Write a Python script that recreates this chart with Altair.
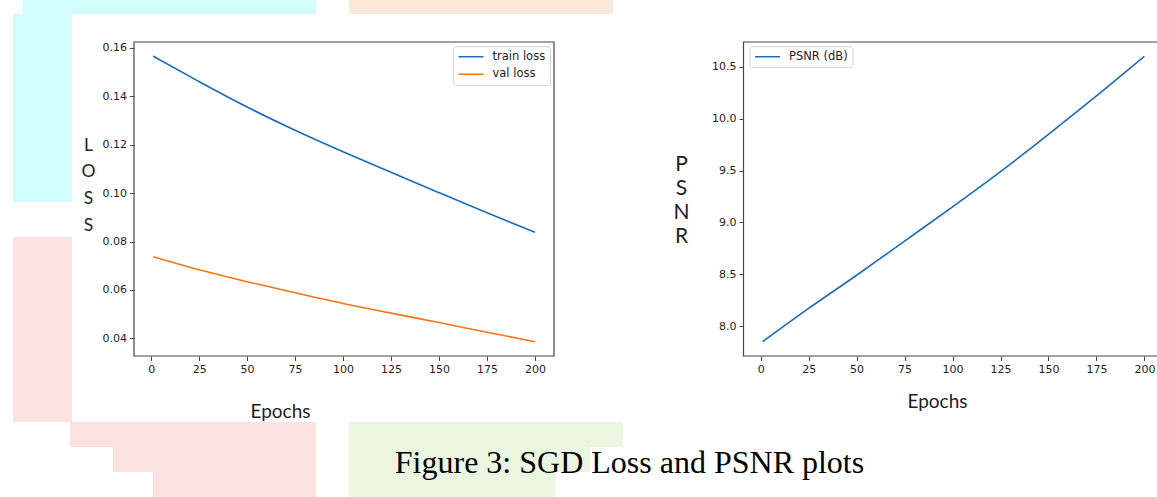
import altair as alt
import pandas as pd

# ---------------- data ----------------
epochs = [1, 25, 50, 75, 100, 125, 150, 175, 200]
train_loss = [0.1566, 0.1461, 0.1356, 0.1260, 0.1171, 0.1086, 0.1002, 0.0919, 0.0838]
val_loss = [0.0737, 0.0683, 0.0634, 0.0588, 0.0544, 0.0504, 0.0465, 0.0425, 0.0386]
psnr = [7.849, 8.17, 8.49, 8.82, 9.15, 9.49, 9.85, 10.22, 10.603]

x_ticks = [0, 25, 50, 75, 100, 125, 150, 175, 200]
loss_ticks = [0.04, 0.06, 0.08, 0.10, 0.12, 0.14, 0.16]
psnr_ticks = [8.0, 8.5, 9.0, 9.5, 10.0, 10.5]

loss_names = ["train loss", "val loss"]
psnr_names = ["PSNR (dB)"]

# axis limits (matplotlib default 5% margins)
X_LIM = [-8.95, 209.95]
LOSS_LIM = [0.03269, 0.16248]
PSNR_LIM = [7.711, 10.741]

BLUE = "#1c6cb6"
ORANGE = "#ff7415"
FRAME = "#474747"
TXT = "#1e1e1e"

W, H = 1157, 497

loss_df = pd.DataFrame({
    "epoch": epochs * 2,
    "value": train_loss + val_loss,
    "series": [loss_names[0]] * len(epochs) + [loss_names[1]] * len(epochs),
})
psnr_df = pd.DataFrame({"epoch": epochs, "value": psnr, "series": psnr_names * len(epochs)})

loss_frame = pd.DataFrame({"x0": [X_LIM[0]], "x1": [X_LIM[1]], "y0": [LOSS_LIM[0]], "y1": [LOSS_LIM[1]]})
psnr_frame = pd.DataFrame({"x0": [X_LIM[0]], "x1": [X_LIM[1]], "y0": [PSNR_LIM[0]], "y1": [PSNR_LIM[1]]})

tick_style = dict(
    domain=False, grid=False, tickSize=4.5, tickWidth=1, tickColor=FRAME,
    labelFont="DejaVu Sans", labelFontSize=11, labelColor=TXT, labelPadding=3,
    titleFont="Lato", titleFontWeight="normal", titleColor=TXT,
    titleAngle=0, titleAlign="center", titleBaseline="alphabetic",
)

legend_style = dict(
    orient="none", title=None, symbolType="stroke", symbolSize=625, symbolStrokeWidth=1.6,
    labelFont="DejaVu Sans", labelFontSize=11.5, labelColor=TXT, labelOffset=8,
    strokeColor="#d4d4d4", fillColor="white", padding=4.5, cornerRadius=3,
    clipHeight=12, rowPadding=5.6,
)

# ---------------- left panel: loss ----------------
lx_scale = alt.Scale(domain=X_LIM, range=[134, 554], nice=False, zero=False)
ly_scale = alt.Scale(domain=LOSS_LIM, range=[356, 42], nice=False, zero=False)
lx_axis = alt.Axis(orient="bottom", offset=-(H - 356), values=x_ticks, format="d",
                   title="Epochs", titleX=280, titleY=61, titleFontSize=19, **tick_style)
ly_axis = alt.Axis(orient="left", offset=-134, values=loss_ticks, format=".2f",
                   title=["L", "O", "S", "S"], titleX=-46, titleY=150,
                   titleFontSize=17.5, titleLineHeight=26.7, **tick_style)

loss_box = alt.Chart(loss_frame).mark_rect(fillOpacity=0, stroke=FRAME, strokeWidth=1.2).encode(
    x=alt.X("x0:Q", scale=lx_scale, axis=lx_axis),
    x2="x1",
    y=alt.Y("y0:Q", scale=ly_scale, axis=ly_axis),
    y2="y1",
)
loss_lines = alt.Chart(loss_df).mark_line(strokeWidth=1.6, interpolate="monotone").encode(
    x=alt.X("epoch:Q", scale=lx_scale, axis=lx_axis),
    y=alt.Y("value:Q", scale=ly_scale, axis=ly_axis),
    color=alt.Color("series:N", sort=loss_names,
                    scale=alt.Scale(domain=loss_names, range=[BLUE, ORANGE]),
                    legend=alt.Legend(legendX=453, legendY=46.2, **legend_style)),
)
left = alt.layer(loss_box, loss_lines)

# ---------------- right panel: PSNR ----------------
rx_scale = alt.Scale(domain=X_LIM, range=[743.5, 1163.5], nice=False, zero=False)
ry_scale = alt.Scale(domain=PSNR_LIM, range=[356, 42], nice=False, zero=False)
rx_axis = alt.Axis(orient="bottom", offset=-(H - 356), values=x_ticks, format="d",
                   title="Epochs", titleX=937, titleY=51, titleFontSize=19, **tick_style)
ry_axis = alt.Axis(orient="left", offset=-743.5, values=psnr_ticks, format=".1f",
                   title=["P", "S", "N", "R"], titleX=-62.5, titleY=170,
                   titleFontSize=21, titleLineHeight=24, **tick_style)

psnr_box = alt.Chart(psnr_frame).mark_rect(fillOpacity=0, stroke=FRAME, strokeWidth=1.2).encode(
    x=alt.X("x0:Q", scale=rx_scale, axis=rx_axis),
    x2="x1",
    y=alt.Y("y0:Q", scale=ry_scale, axis=ry_axis),
    y2="y1",
)
psnr_line = alt.Chart(psnr_df).mark_line(strokeWidth=1.6, interpolate="monotone").encode(
    x=alt.X("epoch:Q", scale=rx_scale, axis=rx_axis),
    y=alt.Y("value:Q", scale=ry_scale, axis=ry_axis),
    color=alt.Color("series:N",
                    scale=alt.Scale(domain=psnr_names, range=[BLUE]),
                    legend=alt.Legend(legendX=749.5, legendY=46.2, **legend_style)),
)
right = alt.layer(psnr_box, psnr_line)

# ---------------- faint page watermark behind the figure ----------------
dummy = pd.DataFrame({"d": [0]})
def block(x, x2, y, y2, color):
    return alt.Chart(dummy).mark_rect(color=color).encode(
        x=alt.value(x), x2=alt.value(x2), y=alt.value(y), y2=alt.value(y2))

CYAN, PINK, PEACH, GREEN = "#d2fdfd", "#fde2e2", "#fde9da", "#ebf6e1"
wm = [
    block(23, 316, 0, 14, CYAN),
    block(13, 72, 14, 202, CYAN),
    block(13, 72, 237, 422, PINK),
    block(70, 316, 422, 447, PINK),
    block(113, 316, 447, 472, PINK),
    block(153, 316, 472, 497, PINK),
    block(349, 613, 0, 14, PEACH),
    block(349, 623, 422, 447, GREEN),
    block(349, 590, 447, 472, GREEN),
    block(349, 555, 472, 497, GREEN),
]

chart = alt.layer(*wm, left, right).resolve_scale(
    x="independent", y="independent", color="independent"
).resolve_legend(color="independent").properties(
    width=W, height=H,
    autosize=alt.AutoSizeParams(type="none"),
    padding=0,
    background="white",
    title=alt.TitleParams(
        text="Figure 3: SGD Loss and PSNR plots", orient="bottom", frame="group",
        anchor="middle", dx=51, offset=-24, baseline="alphabetic",
        font="Liberation Serif", fontSize=32, fontWeight="normal", color="black",
    ),
).configure_view(strokeWidth=0)

chart.save("out.html", embed_options={"renderer": "svg", "actions": False})
